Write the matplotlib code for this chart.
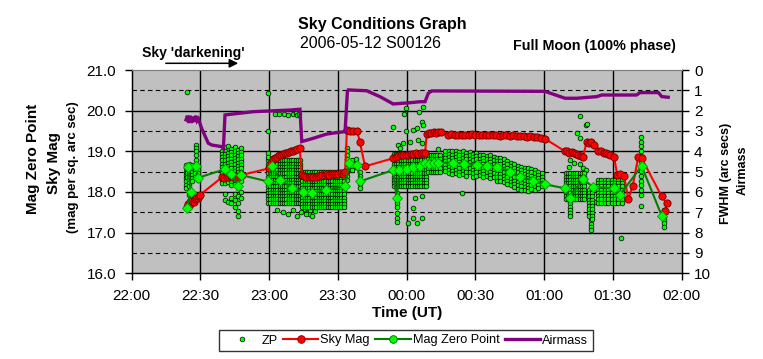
import numpy as np
import matplotlib
matplotlib.use('Agg')
import matplotlib.pyplot as plt
from matplotlib.lines import Line2D

plt.rcParams['font.family'] = ['Liberation Sans', 'DejaVu Sans']

W, H = 763, 359

# time axis in minutes after 22:00 UT
time_ticks = [0, 30, 60, 90, 120, 150, 180, 210, 240]
time_labels = ['22:00', '22:30', '23:00', '23:30', '00:00', '00:30',
               '01:00', '01:30', '02:00']

# sky brightness (mag per sq. arc sec)
sky_t = [24.0, 24.6, 25.1, 25.6, 26.1, 26.6, 27.1, 27.6, 28.2, 28.8, 29.4, 29.9,
         39.5, 40.5, 41.5, 42.5, 43.5, 44.5, 45.5, 46.5, 47.5, 48.2,
         60.0, 60.8, 61.6, 62.5, 63.4, 64.3, 65.2, 66.1, 67.0, 67.9, 68.8, 69.7,
         70.6, 71.5, 72.4, 73.4,
         74.3, 75.3, 76.3, 77.3, 78.3, 79.3, 80.3, 81.3, 82.3, 83.3, 84.3, 85.3,
         86.3, 87.3, 88.3, 89.3, 90.3, 91.3, 92.3, 93.2,
         94.0, 95.3, 96.8, 98.5, 99.7, 101.9,
         114.2, 115.3, 116.4, 117.5, 118.6, 119.7, 120.8, 121.9, 123.0, 124.1,
         125.2, 126.3, 127.3, 128.1,
         128.8, 129.8, 130.8, 131.8, 132.8, 133.8, 134.9,
         138.1, 139.6, 141.1, 142.6, 144.1, 145.6, 147.1, 148.6, 150.1, 151.6,
         153.1, 154.6, 156.1, 157.6, 159.1, 160.6, 162.1, 163.6, 165.1, 166.6,
         168.1, 169.6, 171.1, 172.6, 174.1, 175.6, 177.1, 178.6, 180.4,
         189.2, 190.0, 191.0, 192.0, 193.0, 194.0, 195.0, 196.0, 196.9,
         198.6, 199.5, 200.5, 201.8,
         203.7, 205.0, 206.0, 207.0, 208.0, 209.0, 210.5,
         212.0, 213.0, 214.9, 216.8, 218.7, 221.1, 222.6,
         231.4, 233.5, 232.8]
sky_mag = [17.62, 17.70, 17.66, 17.74, 17.72, 17.78, 17.76, 17.82, 17.84, 17.86, 17.90, 17.93,
           18.36, 18.34, 18.38, 18.36, 18.40, 18.38, 18.40, 18.38, 18.40, 18.42,
           18.58, 18.72, 18.80, 18.84, 18.86, 18.90, 18.92, 18.94, 18.95, 18.97, 18.98, 19.00,
           19.02, 19.04, 19.06, 19.07,
           18.42, 18.40, 18.38, 18.38, 18.36, 18.38, 18.38, 18.40, 18.40, 18.42, 18.41, 18.43,
           18.42, 18.44, 18.43, 18.45, 18.44, 18.46, 18.45, 18.48,
           19.53, 19.51, 19.49, 19.49, 19.22, 18.63,
           18.83, 18.86, 18.88, 18.90, 18.90, 18.92, 18.92, 18.94, 18.94, 18.96,
           18.94, 18.96, 18.96, 18.96,
           19.42, 19.46, 19.44, 19.47, 19.45, 19.48, 19.47,
           19.40, 19.42, 19.40, 19.41, 19.39, 19.41, 19.40, 19.42, 19.40, 19.39,
           19.41, 19.40, 19.39, 19.41, 19.40, 19.38, 19.40, 19.39, 19.38, 19.40,
           19.38, 19.37, 19.38, 19.36, 19.37, 19.35, 19.34, 19.33, 19.31,
           19.00, 19.02, 18.97, 18.99, 18.95, 18.94, 18.92, 18.89, 18.85,
           19.22, 19.20, 19.22, 19.16,
           19.02, 19.00, 18.97, 18.95, 18.93, 18.91, 18.87,
           18.42, 18.44, 18.40, 17.82, 18.15, 18.85, 18.83,
           17.89, 17.72, 17.52]

# magnitude zero point
mzp_t = [24.1, 25.8, 24.8, 28.1, 29.1, 40.8, 43.5, 46.6, 47.6, 59.4, 61.2, 65.0,
         70.0, 75.0, 78.6, 85.0, 93.2, 95.0, 98.5, 99.7, 114.2, 115.7, 116.9,
         120.0, 123.0, 126.0, 128.1, 130.0, 132.0, 133.9, 140.4, 145.0, 150.6,
         155.0, 159.4, 165.0, 169.5, 175.0, 180.4, 189.2, 191.3, 196.9, 201.5,
         210.5, 213.2, 222.6, 231.4]
mzp_mag = [17.60, 18.01, 18.61, 18.63, 18.35, 18.56, 18.45, 18.15, 18.42, 18.26, 18.64, 18.30,
           18.10, 18.00, 17.97, 18.05, 18.15, 18.71, 18.67, 18.26, 18.54, 17.85, 18.53,
           18.56, 18.61, 18.65, 18.71, 18.70, 18.71, 18.72, 18.72, 18.70, 18.67,
           18.65, 18.61, 18.50, 18.38, 18.28, 18.19, 18.09, 17.86, 18.32, 18.12,
           18.09, 17.93, 18.64, 17.41]

# airmass (right axis)
air_t = [23.8, 24.4, 25.0, 25.6, 26.2, 26.8, 27.4, 28.0, 28.6, 29.2, 30.6, 33.5,
         35.0, 39.4, 40.1, 40.8, 53.1, 69.2, 73.5, 74.3, 79.3, 85.2, 89.5, 93.2,
         94.2, 94.6, 102.6, 108.4, 114.2, 121.5, 125.9, 128.1, 129.5, 131.0,
         180.4, 189.2, 194.3, 203.0, 205.2, 220.4, 221.9, 229.9, 231.4, 234.2]
air_val = [2.45, 2.25, 2.60, 2.25, 2.60, 2.30, 2.55, 2.25, 2.50, 2.40, 2.87, 3.60,
           3.69, 3.77, 3.85, 2.21, 2.05, 1.97, 1.93, 3.52, 3.36, 3.15, 3.08, 3.03,
           1.07, 0.98, 1.02, 1.31, 1.67, 1.61, 1.56, 1.56, 1.15, 1.03,
           1.05, 1.39, 1.39, 1.31, 1.23, 1.23, 1.11, 1.11, 1.31, 1.34]

# ZP of individual frames: dense blocks (times x levels)
zp_blocks = [
    ([59.6, 60.6, 61.6, 62.6, 63.6, 64.6, 65.6, 66.6, 67.6, 68.6, 69.6, 70.6,
      71.6, 72.6, 73.4],
     [18.78, 18.70, 18.62, 18.54, 18.46, 18.38, 18.30, 18.22, 18.14, 18.06,
      17.98, 17.90, 17.82, 17.74]),
    ([74.6, 75.6, 76.6, 77.6, 78.6, 79.6, 80.6, 81.6, 82.6, 83.6, 84.6, 85.6,
      86.6, 87.6, 88.6, 89.6, 90.6, 91.6, 92.6],
     [18.50, 18.42, 18.34, 18.26, 18.18, 18.10, 18.02, 17.94, 17.86, 17.78,
      17.70, 17.62]),
    ([114.5, 115.5, 116.5, 117.5, 118.5, 119.5, 120.5, 121.5, 122.5, 123.5,
      124.5, 125.5, 126.5, 127.5, 128.5],
     [18.94, 18.86, 18.78, 18.70, 18.62, 18.54, 18.46, 18.38, 18.30, 18.22, 18.14]),
    ([129.5, 130.5, 131.5, 132.5, 133.5, 134.5],
     [18.90, 18.82, 18.74, 18.66, 18.58, 18.50]),
    ([189.5, 190.5, 191.5, 192.5, 193.5, 194.5, 195.5, 196.5, 197.5],
     [18.46, 18.38, 18.30, 18.22, 18.14, 18.06, 17.98, 17.90, 17.82]),
    ([203.5, 205.0, 206.5, 208.0, 209.5, 211.0, 212.5, 214.0],
     [18.30, 18.22, 18.14, 18.06, 17.98, 17.90, 17.82, 17.74]),
]

# ZP of individual frames: single columns (time, mags)
zp_cols = [
    (23.6, [18.66, 18.58, 18.50, 18.42, 18.34, 18.26, 18.18, 18.10]),
    (24.4, [20.47, 18.62, 18.54, 18.46, 18.38]),
    (25.2, [18.70, 18.62, 18.54, 18.46, 18.38, 18.30, 18.22, 18.14, 17.92, 17.78]),
    (26.4, [18.66, 18.58, 18.50, 18.42, 18.34, 18.26]),
    (27.6, [18.62, 18.54, 18.46, 18.38]),
    (28.1, [19.16, 19.08, 19.00, 18.91, 18.79, 18.70]),
    (29.0, [18.62, 18.54, 18.46, 18.38, 18.30]),
    (39.5, [19.02, 18.94, 18.86, 18.78, 18.70, 18.62, 18.54, 18.46, 18.38, 18.30, 18.22]),
    (40.8, [19.10, 19.02, 18.94, 18.86, 18.78, 18.70, 18.62, 18.54, 18.46, 18.38, 18.30,
            18.22, 17.96, 17.80]),
    (42.2, [19.12, 18.96, 18.88, 18.80, 18.72, 18.64, 18.56, 18.48, 18.40, 18.32, 18.24, 17.76]),
    (43.6, [19.06, 18.98, 18.90, 18.82, 18.74, 18.66, 18.58, 18.50, 18.42, 18.34, 18.26,
            18.18, 17.86, 17.72]),
    (45.0, [19.10, 19.00, 18.92, 18.84, 18.76, 18.68, 18.60, 18.52, 18.44, 18.36, 18.28,
            18.20, 17.96, 17.80, 17.62]),
    (46.4, [19.04, 18.96, 18.88, 18.80, 18.72, 18.64, 18.56, 18.48, 18.40, 18.32, 18.24,
            18.10, 17.90, 17.74, 17.54, 17.42]),
    (47.8, [19.08, 18.98, 18.90, 18.82, 18.74, 18.66, 18.58, 18.50, 18.42, 18.34, 18.26,
            18.00, 17.84]),
    (59.7, [20.43, 19.49, 18.95, 18.87]),
    (93.9, [19.08, 19.00, 18.90, 18.80, 18.70, 18.60, 18.50, 18.40, 18.30]),
    (96.0, [18.78, 18.70, 18.62, 18.54]),
    (98.0, [18.80, 18.70, 18.62]),
    (99.5, [18.50, 18.40, 18.30, 18.20, 18.10]),
    (115.7, [17.97, 17.85, 17.72, 17.62, 17.48, 17.36, 17.27]),
    (137.0, [19.00, 18.92, 18.84, 18.76, 18.68, 18.60, 18.52]),
    (138.5, [19.02, 18.94, 18.86, 18.78, 18.70, 18.62, 18.54, 18.46]),
    (140.0, [19.00, 18.92, 18.84, 18.76, 18.68, 18.60, 18.52, 18.44]),
    (141.5, [19.02, 18.94, 18.86, 18.78, 18.70, 18.62, 18.54, 18.46]),
    (143.0, [18.98, 18.90, 18.82, 18.74, 18.66, 18.58, 18.50, 18.42]),
    (144.5, [19.00, 18.92, 18.84, 18.76, 18.68, 18.60, 18.52, 18.44]),
    (146.0, [18.96, 18.88, 18.80, 18.72, 18.64, 18.56, 18.48, 18.40]),
    (147.5, [18.98, 18.90, 18.82, 18.74, 18.66, 18.58, 18.50]),
    (149.0, [18.94, 18.86, 18.78, 18.70, 18.62, 18.54, 18.46, 18.38]),
    (150.5, [18.96, 18.88, 18.80, 18.72, 18.64, 18.56, 18.48, 18.40]),
    (152.0, [18.90, 18.82, 18.74, 18.66, 18.58, 18.50, 18.42]),
    (153.5, [18.92, 18.84, 18.76, 18.68, 18.60, 18.52, 18.44, 18.36]),
    (155.0, [18.88, 18.80, 18.72, 18.64, 18.56, 18.48, 18.40]),
    (156.5, [18.90, 18.82, 18.74, 18.66, 18.58, 18.50, 18.42, 18.34]),
    (158.0, [18.86, 18.78, 18.70, 18.62, 18.54, 18.46, 18.38]),
    (159.5, [18.84, 18.76, 18.68, 18.60, 18.52, 18.44, 18.36, 18.28]),
    (161.0, [18.84, 18.76, 18.68, 18.60, 18.52, 18.44, 18.36, 18.28]),
    (162.5, [18.80, 18.72, 18.64, 18.56, 18.48, 18.40, 18.32, 18.24]),
    (164.0, [18.76, 18.68, 18.60, 18.52, 18.44, 18.36, 18.28, 18.20]),
    (165.5, [18.72, 18.64, 18.56, 18.48, 18.40, 18.32, 18.24, 18.16]),
    (167.0, [18.68, 18.60, 18.52, 18.44, 18.36, 18.28, 18.20, 18.12]),
    (168.5, [18.64, 18.56, 18.48, 18.40, 18.32, 18.24, 18.16, 18.08]),
    (170.0, [18.62, 18.54, 18.46, 18.38, 18.30, 18.22, 18.14, 18.06]),
    (171.5, [18.60, 18.52, 18.44, 18.36, 18.28, 18.20, 18.12, 18.04]),
    (173.0, [18.58, 18.50, 18.42, 18.34, 18.26, 18.18, 18.10, 18.02]),
    (174.5, [18.56, 18.48, 18.40, 18.32, 18.24, 18.16, 18.08]),
    (176.0, [18.54, 18.46, 18.38, 18.30, 18.22, 18.14, 18.06]),
    (177.5, [18.50, 18.42, 18.34, 18.26, 18.18, 18.10]),
    (179.0, [18.46, 18.38, 18.30, 18.22, 18.14]),
    (191.3, [17.72, 17.64, 17.56, 17.48, 17.40]),
    (199.5, [18.05, 17.97, 17.89, 17.81, 17.73, 17.65, 17.57, 17.49, 17.41]),
    (200.3, [17.30, 17.22, 17.14, 17.06]),
    (201.0, [18.05, 17.97, 17.89, 17.81, 17.73, 17.65, 17.57, 17.49, 17.41, 17.33]),
    (222.2, [19.36, 19.24, 19.12, 19.00, 18.88, 18.76, 18.64, 18.52, 18.40, 18.28,
             18.16, 18.04, 17.92, 17.65]),
    (232.4, [17.55, 17.47, 17.39, 17.31, 17.23, 17.15]),
]

# ZP of individual frames: scattered points
zp_single_t = [62.5, 64.3, 66.5, 68.5, 70.5, 71.7, 72.4, 73.2,
               63.5, 66.0, 68.5, 70.5, 72.0, 74.0, 75.5, 77.5, 78.8, 80.0,
               74.5, 75.5, 76.5, 77.5, 76.0, 78.0,
               114.2, 118.9, 119.9, 125.4, 127.4, 126.6, 127.3, 119.9, 122.9, 124.4,
               118.3, 121.5, 125.1, 126.6, 116.4, 117.2, 115.7,
               120.8, 123.0, 124.7, 126.6, 123.0, 126.6, 123.7, 133.9, 144.1,
               195.7, 198.2, 198.9, 194.6, 195.8, 191.5, 193.0, 191.0, 195.5, 197.0,
               198.5, 200.0, 202.2, 213.5]
zp_single_m = [19.92, 19.93, 19.92, 19.90, 19.93, 19.95, 19.90, 19.92,
               17.55, 17.50, 17.45, 17.55, 17.42, 17.50, 17.58, 17.46, 17.40, 17.52,
               17.85, 17.75, 17.60, 17.70, 17.45, 17.55,
               19.61, 19.92, 20.06, 19.96, 20.08, 19.73, 19.65, 19.49, 19.53, 19.57,
               19.20, 19.24, 19.28, 19.20, 19.16, 19.08, 18.91,
               17.23, 17.35, 17.23, 17.35, 17.60, 17.89, 17.85, 19.05, 17.97,
               19.86, 19.65, 19.68, 19.45, 19.33, 18.79, 18.72, 18.62, 18.70, 18.60,
               18.55, 17.68, 17.76, 16.88]

# collect ZP points
zp_t, zp_m = list(zp_single_t), list(zp_single_m)
for bt, bm in zp_blocks:
    for t in bt:
        for m in bm:
            zp_t.append(t)
            zp_m.append(m)
for t, ms in zp_cols:
    for m in ms:
        zp_t.append(t)
        zp_m.append(m)


def fx(x):
    return x / W


def fy(y):
    return 1 - y / H


fig = plt.figure(figsize=(W / 100, H / 100), dpi=100)
ax = fig.add_axes([fx(131.5), fy(273.3), (681.5 - 131.5) / W, (273.3 - 70) / H])
ax.set_facecolor('#c0c0c0')

# grid
for m in [17, 18, 19, 20]:
    ax.axhline(m, color='black', lw=1.0, zorder=0.5)
for m in [16.5, 17.5, 18.5, 19.5, 20.5]:
    ax.axhline(m, color='black', lw=0.8, ls=(0, (4, 3)), zorder=0.5)
for t in time_ticks[1:-1]:
    ax.axvline(t, color='black', lw=1.0, zorder=0.5)

ax.plot(zp_t, zp_m, ls='none', marker='o', ms=3.4, mfc='#00ff00', mec='black',
        mew=0.5, zorder=2)
ax.plot(sky_t, sky_mag, color='#ff0000', lw=1.5, marker='o', ms=5.2,
        mfc='#ff0000', mec='#700000', mew=0.6, zorder=3)
ax.plot(mzp_t, mzp_mag, color='#008000', lw=1.5, marker='D', ms=4.8,
        mfc='#00ff00', mec='#00a000', mew=0.6, zorder=4)

ax.set_xlim(0, 240)
ax.set_ylim(16, 21)
ax.set_xticks(time_ticks)
ax.set_xticklabels(time_labels)
ax.set_yticks([16, 17, 18, 19, 20, 21])
ax.set_yticklabels(['%.1f' % v for v in [16, 17, 18, 19, 20, 21]])
ax.tick_params(axis='both', direction='out', length=5, width=1, labelsize=11,
               colors='black')
ax.tick_params(axis='y', pad=6)
ax.tick_params(axis='x', pad=6)
for s in ['left', 'bottom', 'right']:
    ax.spines[s].set_color('black')
    ax.spines[s].set_linewidth(1)
ax.spines['top'].set_color('#808080')

ax2 = ax.twinx()
ax2.plot(air_t, air_val, color='#800080', lw=2.4, solid_joinstyle='miter', zorder=5)
ax2.set_ylim(10, 0)
ax2.set_yticks(range(11))
ax2.tick_params(axis='y', direction='out', length=5, width=1, labelsize=11, pad=4)
ax2.spines['right'].set_color('black')
ax2.spines['top'].set_color('#808080')

# titles and labels
fig.text(fx(382), fy(24), 'Sky Conditions Graph', ha='center', va='center',
         fontsize=11.5, fontweight='bold')
fig.text(fx(371), fy(44), '2006-05-12 S00126', ha='center', va='center', fontsize=11.5)
fig.text(fx(594), fy(46), 'Full Moon (100% phase)', ha='center', va='center',
         fontsize=10.3, fontweight='bold')
fig.text(fx(193), fy(52.5), "Sky 'darkening'", ha='center', va='center',
         fontsize=10.1, fontweight='bold')
ax.annotate('', xy=(241, H - 63.3), xytext=(163, H - 63.3),
            xycoords='figure pixels', textcoords='figure pixels',
            arrowprops=dict(arrowstyle='-|>', color='black', lw=1.1,
                            mutation_scale=13))

fig.text(fx(407), fy(313), 'Time (UT)', ha='center', va='center',
         fontsize=11, fontweight='bold')
fig.text(fx(33), fy(159), 'Mag Zero Point', ha='center', va='center',
         rotation=90, fontsize=11, fontweight='bold')
fig.text(fx(54), fy(163), 'Sky Mag', ha='center', va='center',
         rotation=90, fontsize=11, fontweight='bold')
fig.text(fx(73), fy(167), '(mag per sq. arc sec)', ha='center', va='center',
         rotation=90, fontsize=9.5, fontweight='bold')
fig.text(fx(726), fy(173), 'FWHM (arc secs)', ha='center', va='center',
         rotation=90, fontsize=9, fontweight='bold')
fig.text(fx(743), fy(170), 'Airmass', ha='center', va='center',
         rotation=90, fontsize=9, fontweight='bold')

# legend
handles = [
    Line2D([], [], ls='none', marker='o', ms=3.4, mfc='#00ff00', mec='black', mew=0.5),
    Line2D([], [], color='#ff0000', lw=1.5, marker='o', ms=5.5, mfc='#ff0000',
           mec='#700000', mew=0.6),
    Line2D([], [], color='#008000', lw=1.5, marker='o', ms=5.5, mfc='#00ff00',
           mec='#006000', mew=0.6),
    Line2D([], [], color='#800080', lw=2.4),
]
leg = fig.legend(handles, ['ZP', 'Sky Mag', 'Mag Zero Point', 'Airmass'],
                 loc='center', bbox_to_anchor=(fx(406), fy(340.5)), ncol=4,
                 fontsize=9.2, frameon=True, fancybox=False, handlelength=2.8,
                 handletextpad=0.15, columnspacing=0.4, borderpad=0.35,
                 edgecolor='black')
leg.get_frame().set_linewidth(1)

fig.savefig('out.png', dpi=100)
